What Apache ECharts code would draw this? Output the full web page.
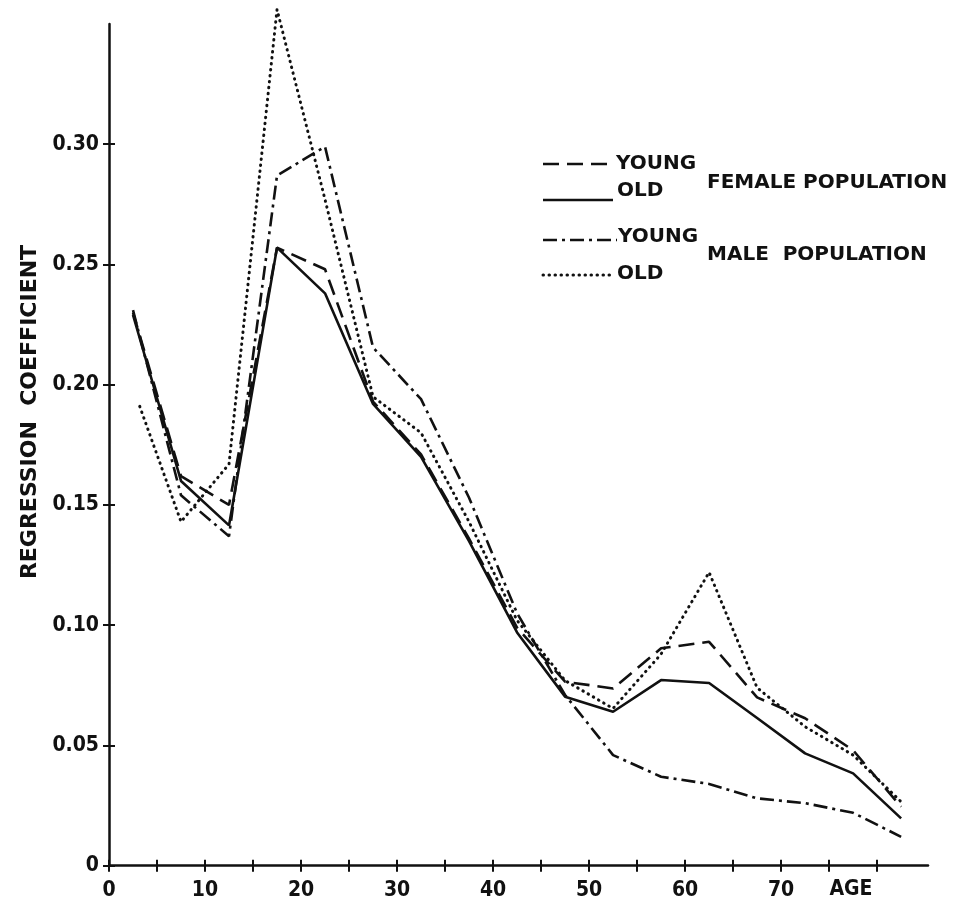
<!DOCTYPE html>
<html>
<head>
<meta charset="utf-8">
<script src="https://cdn.jsdelivr.net/npm/echarts@6/dist/echarts.min.js"></script>
<style>
  html, body { margin: 0; padding: 0; background: #fff; }
  #chart { width: 963px; height: 905px; }
</style>
</head>
<body>
<div id="chart"></div>
<script>
// Age group midpoints (years)
const ages = [2.5, 7.5, 12.5, 17.5, 22.5, 27.5, 32.5, 37.5, 42.5, 47.5, 52.5, 57.5, 62.5, 67.5, 72.5, 77.5, 82.5];
// Old male curve begins slightly later
const agesMaleOld = [3.2, 7.5, 12.5, 17.5, 22.5, 27.5, 32.5, 37.5, 42.5, 47.5, 52.5, 57.5, 62.5, 67.5, 72.5, 77.5, 82.5];

// Regression coefficients
const femaleYoung = [0.230, 0.162, 0.150, 0.257, 0.248, 0.193, 0.171, 0.136, 0.099, 0.0765, 0.0737, 0.0904, 0.0931, 0.070, 0.0613, 0.048, 0.0245];
const femaleOld   = [0.229, 0.160, 0.1415, 0.257, 0.238, 0.192, 0.170, 0.135, 0.097, 0.0703, 0.064, 0.0772, 0.076, 0.0614, 0.0467, 0.0384, 0.0197];
const maleYoung   = [0.231, 0.154, 0.137, 0.287, 0.299, 0.2155, 0.194, 0.153, 0.105, 0.071, 0.046, 0.037, 0.034, 0.028, 0.026, 0.022, 0.012];
const maleOld     = [0.191, 0.143, 0.167, 0.356, 0.277, 0.195, 0.180, 0.143, 0.102, 0.077, 0.0654, 0.088, 0.122, 0.074, 0.0578, 0.046, 0.0266];

// Axis ticks and labels
const xTicks = [0, 5, 10, 15, 20, 25, 30, 35, 40, 45, 50, 55, 60, 65, 70, 75, 80];
const xLabels = [0, 10, 20, 30, 40, 50, 60, 70];
const yTicks = [0, 0.05, 0.10, 0.15, 0.20, 0.25, 0.30];

const FONT_NUM = '"DejaVu Sans Condensed", "DejaVu Sans", sans-serif';
const FONT_TXT = '"DejaVu Sans", sans-serif';
const INK = '#111';

const pairs = (xs, ys) => xs.map((x, i) => [x, ys[i]]);

const chart = echarts.init(document.getElementById('chart'), null, { renderer: 'canvas' });

const baseLine = { color: INK, width: 2.6 };

function makeSeries(name, xs, ys, lineStyle) {
  return {
    name, type: 'line', data: pairs(xs, ys),
    showSymbol: false, symbol: 'none', clip: false, smooth: false,
    lineStyle: Object.assign({}, baseLine, lineStyle),
    emphasis: { disabled: true }, z: 3
  };
}

const xAxisCommon = { type: 'value', min: 0, max: 85.3, splitLine: { show: false } };
const yAxisCommon = { type: 'value', min: 0, max: 0.35, splitLine: { show: false } };

const legendX1 = 543;
function legendLine(y, x2, dash, extra) {
  return {
    type: 'line', silent: true,
    shape: { x1: legendX1, y1: y, x2: x2, y2: y },
    style: Object.assign({ stroke: INK, lineWidth: 2.6, lineDash: dash }, extra || {})
  };
}
function label(x, y, text, extra) {
  return {
    type: 'text', silent: true, x, y,
    style: Object.assign({
      text, fill: INK, font: 'bold 20px ' + FONT_TXT,
      align: 'left', verticalAlign: 'middle'
    }, extra || {})
  };
}

const tickStyle = { color: INK, width: 2 };

chart.setOption({
  animation: false,
  backgroundColor: '#fff',
  grid: { left: 109, right: 35, top: 24, bottom: 39.3, containLabel: false },
  xAxis: [
    Object.assign({}, xAxisCommon, {
      axisLine: { show: true, onZero: false, lineStyle: { color: INK, width: 2.5 } },
      axisTick: { show: true, inside: false, length: 6, lineStyle: tickStyle, customValues: xTicks },
      axisLabel: { show: true, margin: 14, color: INK, fontFamily: FONT_NUM, fontWeight: 'bold', fontSize: 21, customValues: xLabels }
    }),
    Object.assign({}, xAxisCommon, {
      position: 'bottom', offset: 0,
      axisLine: { show: false },
      axisTick: { show: true, inside: true, length: 6, lineStyle: tickStyle, customValues: xTicks },
      axisLabel: { show: false }
    })
  ],
  yAxis: [
    Object.assign({}, yAxisCommon, {
      axisLine: { show: true, onZero: false, lineStyle: { color: INK, width: 2.5 } },
      axisTick: { show: true, inside: false, length: 6, lineStyle: tickStyle, customValues: yTicks },
      axisLabel: {
        show: true, margin: 10, color: INK, fontFamily: FONT_NUM, fontWeight: 'bold', fontSize: 21,
        customValues: yTicks,
        formatter: v => (v === 0 ? '0' : v.toFixed(2))
      }
    }),
    Object.assign({}, yAxisCommon, {
      position: 'left', offset: 0,
      axisLine: { show: false },
      axisTick: { show: true, inside: true, length: 6, lineStyle: tickStyle, customValues: yTicks },
      axisLabel: { show: false }
    })
  ],
  series: [
    makeSeries('Female young', ages, femaleYoung, { type: [16, 8] }),
    makeSeries('Female old', ages, femaleOld, { type: 'solid' }),
    makeSeries('Male young', ages, maleYoung, { type: [14, 5, 3, 5] }),
    makeSeries('Male old', agesMaleOld, maleOld, { type: [0.5, 5.5], cap: 'round', width: 3 })
  ],
  graphic: [
    // axis titles
    label(851, 890, 'AGE', { align: 'center', font: 'bold 21px ' + FONT_NUM }),
    {
      type: 'text', silent: true, x: 30, y: 412, rotation: Math.PI / 2,
      style: { text: 'REGRESSION  COEFFICIENT', fill: INK, font: 'bold 22px ' + FONT_TXT, align: 'center', verticalAlign: 'middle' }
    },
    // key: female
    legendLine(164, 615, [16, 8]),
    label(616, 164, 'YOUNG'),
    label(617, 191, 'OLD'),
    legendLine(200, 613, null),
    label(707, 183, 'FEMALE POPULATION'),
    // key: male
    legendLine(240, 617, [14, 5, 3, 5]),
    label(618, 237, 'YOUNG'),
    legendLine(275, 615, [0.5, 5.5], { lineCap: 'round', lineWidth: 3 }),
    label(617, 274, 'OLD'),
    label(707, 255, 'MALE  POPULATION')
  ]
});
</script>
</body>
</html>
